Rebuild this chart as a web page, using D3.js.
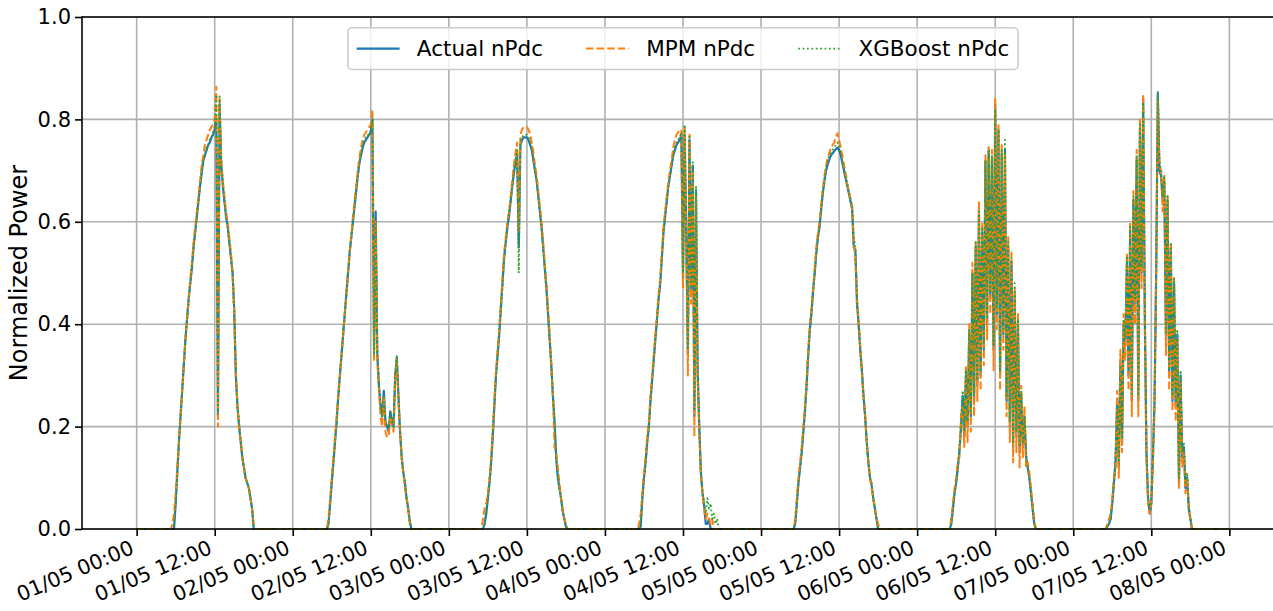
<!DOCTYPE html>
<html>
<head>
<meta charset="utf-8">
<script src="https://cdn.jsdelivr.net/npm/d3@7"></script>
<style>
body { margin: 0; background: #fff; }
text { font-family: "DejaVu Sans", sans-serif; fill: #000; }
</style>
</head>
<body>
<div id="chart"></div>
<script>
// time axis
var year = 2021;
var days = ["01/05", "02/05", "03/05", "04/05", "05/05", "06/05", "07/05"];
var firstSample = "05:00";
var stepMinutes = 15;
var rangeStart = "01/05 00:00";
var rangeEnd = "08/05 00:00";
var xTickLabels = ["01/05 00:00", "01/05 12:00", "02/05 00:00", "02/05 12:00", "03/05 00:00",
    "03/05 12:00", "04/05 00:00", "04/05 12:00", "05/05 00:00", "05/05 12:00", "06/05 00:00",
    "06/05 12:00", "07/05 00:00", "07/05 12:00", "08/05 00:00"];
var yTickValues = [0, 0.2, 0.4, 0.6, 0.8, 1.0];
var seriesNames = ["Actual nPdc", "MPM nPdc", "XGBoost nPdc"];

// daylight samples, 05:00 -> 18:15 every 15 min, one row per day
var actual = [
  [0,0,0,0, 0.05,0.11,0.17,0.22, 0.27,0.32,0.37,0.41, 0.45,0.48,0.51,0.55, 0.58,0.61,0.64,0.67, 0.695,0.72,0.73,0.74, 0.75,0.755,0.765,0.77, 0.78,0.80,0.22,0.83, 0.71,0.67,0.64,0.61, 0.59,0.56,0.53,0.50, 0.43,0.30,0.24,0.20, 0.17,0.14,0.12,0.10, 0.09,0.08,0.06,0.04, 0,0],
  [0,0,0.01,0.05, 0.09,0.13,0.17,0.21, 0.26,0.30,0.34,0.38, 0.42,0.46,0.50,0.54, 0.57,0.60,0.63,0.66, 0.69,0.715,0.73,0.745, 0.755,0.76,0.765,0.77, 0.775,0.80,0.35,0.62, 0.34,0.28,0.24,0.22, 0.27,0.21,0.20,0.19, 0.23,0.21,0.20,0.30, 0.335,0.26,0.19,0.14, 0.11,0.09,0.06,0.04, 0.015,0],
  [0,0,0.01,0.03, 0.06,0.09,0.13,0.18, 0.24,0.30,0.34,0.38, 0.43,0.48,0.53,0.56, 0.59,0.61,0.64,0.67, 0.695,0.715,0.735,0.55, 0.75,0.76,0.765,0.765, 0.765,0.76,0.75,0.74, 0.72,0.70,0.68,0.65, 0.62,0.59,0.55,0.51, 0.47,0.42,0.37,0.32, 0.26,0.21,0.14,0.10, 0.08,0.06,0.035,0.02, 0.005,0],
  [0,0,0.005,0.06, 0.10,0.13,0.17,0.20, 0.25,0.29,0.33,0.37, 0.41,0.45,0.48,0.53, 0.58,0.61,0.64,0.67, 0.69,0.71,0.73,0.74, 0.75,0.755,0.76,0.77, 0.49,0.77,0.58,0.34, 0.76,0.46,0.71,0.22, 0.66,0.31,0.20,0.11, 0.07,0.045,0.01,0.01, 0.02,0,0,0, 0,0,0,0, 0,0],
  [0,0.01,0.05,0.09, 0.12,0.15,0.19,0.23, 0.28,0.34,0.39,0.42, 0.465,0.50,0.54,0.57, 0.59,0.625,0.656,0.68, 0.70,0.712,0.722,0.73, 0.734,0.738,0.742,0.745, 0.74,0.73,0.715,0.70, 0.685,0.67,0.655,0.64, 0.625,0.55,0.545,0.44, 0.40,0.35,0.31,0.26, 0.22,0.17,0.13,0.10, 0.085,0.06,0.04,0.02, 0,0],
  [0,0.01,0.04,0.07, 0.09,0.12,0.15,0.20, 0.26,0.18,0.30,0.20, 0.38,0.22,0.50,0.25, 0.55,0.28,0.62,0.30, 0.58,0.35,0.72,0.40, 0.74,0.45,0.72,0.35, 0.83,0.42,0.78,0.30, 0.73,0.38,0.74,0.25, 0.55,0.20,0.52,0.16, 0.46,0.18,0.40,0.15, 0.26,0.16,0.22,0.14, 0.12,0.10,0.07,0.04, 0.01,0],
  [0,0.005,0.01,0.02, 0.05,0.09,0.13,0.25, 0.12,0.33,0.17,0.40, 0.36,0.52,0.30,0.58, 0.25,0.64,0.44,0.72, 0.25,0.78,0.50,0.84, 0.42,0.15,0.06,0.03, 0.05,0.14,0.25,0.50, 0.85,0.70,0.69,0.64, 0.68,0.37,0.64,0.30, 0.55,0.25,0.48,0.24, 0.38,0.09,0.30,0.14, 0.16,0.08,0.10,0.04, 0.02,0]
];
var mpm = [
  [0,0,0.01,0.03, 0.07,0.12,0.17,0.22, 0.27,0.32,0.37,0.41, 0.45,0.49,0.52,0.56, 0.59,0.62,0.65,0.68, 0.71,0.73,0.75,0.76, 0.77,0.78,0.785,0.79, 0.80,0.864,0.20,0.84, 0.72,0.68,0.65,0.62, 0.60,0.57,0.54,0.50, 0.42,0.31,0.24,0.20, 0.17,0.14,0.12,0.10, 0.09,0.08,0.06,0.04, 0.01,0],
  [0,0,0.02,0.06, 0.10,0.14,0.18,0.22, 0.26,0.30,0.34,0.38, 0.42,0.46,0.50,0.54, 0.57,0.61,0.64,0.67, 0.70,0.725,0.745,0.76, 0.77,0.775,0.78,0.785, 0.79,0.82,0.33,0.60, 0.33,0.27,0.22,0.20, 0.26,0.19,0.18,0.18, 0.22,0.20,0.19,0.29, 0.33,0.25,0.19,0.14, 0.11,0.08,0.06,0.04, 0.01,0],
  [0,0.02,0.04,0.05, 0.07,0.10,0.14,0.19, 0.25,0.31,0.35,0.39, 0.44,0.49,0.54,0.57, 0.60,0.62,0.65,0.68, 0.71,0.735,0.755,0.58, 0.77,0.78,0.785,0.786, 0.785,0.78,0.77,0.755, 0.735,0.71,0.69,0.66, 0.63,0.60,0.56,0.52, 0.48,0.43,0.38,0.32, 0.26,0.16,0.15,0.12, 0.09,0.06,0.04,0.02, 0.01,0],
  [0,0.01,0.03,0.07, 0.11,0.14,0.18,0.21, 0.26,0.30,0.34,0.38, 0.42,0.46,0.49,0.54, 0.59,0.62,0.65,0.68, 0.70,0.72,0.745,0.76, 0.77,0.775,0.78,0.78, 0.47,0.785,0.56,0.30, 0.77,0.44,0.70,0.18, 0.65,0.29,0.19,0.10, 0.07,0.04,0.02,0.03, 0.02,0.01,0.02,0, 0,0,0,0, 0,0],
  [0,0.02,0.06,0.10, 0.13,0.16,0.20,0.24, 0.29,0.35,0.40,0.43, 0.47,0.51,0.55,0.58, 0.60,0.635,0.665,0.69, 0.71,0.725,0.735,0.745, 0.75,0.755,0.765,0.773, 0.76,0.745,0.73,0.71, 0.695,0.675,0.66,0.645, 0.63,0.56,0.53,0.45, 0.41,0.36,0.31,0.26, 0.22,0.17,0.13,0.10, 0.08,0.06,0.04,0.02, 0.01,0],
  [0,0.02,0.05,0.08, 0.10,0.13,0.14,0.22, 0.24,0.16,0.32,0.17, 0.40,0.19,0.52,0.22, 0.56,0.25,0.64,0.27, 0.60,0.32,0.73,0.37, 0.75,0.42,0.74,0.31, 0.84,0.39,0.79,0.27, 0.75,0.35,0.73,0.22, 0.57,0.17,0.54,0.13, 0.47,0.15,0.42,0.12, 0.28,0.14,0.24,0.12, 0.13,0.11,0.08,0.05, 0.02,0],
  [0,0.01,0.02,0.03, 0.06,0.10,0.12,0.27, 0.10,0.35,0.15,0.42, 0.33,0.54,0.27,0.60, 0.22,0.66,0.40,0.74, 0.22,0.80,0.47,0.85, 0.39,0.14,0.05,0.03, 0.05,0.13,0.24,0.52, 0.84,0.71,0.70,0.62, 0.69,0.34,0.65,0.27, 0.56,0.23,0.49,0.21, 0.37,0.08,0.29,0.12, 0.15,0.07,0.10,0.05, 0.02,0]
];
var xgb = [
  [0,0,0,0.01, 0.05,0.11,0.17,0.22, 0.27,0.32,0.37,0.41, 0.45,0.48,0.52,0.55, 0.58,0.61,0.64,0.67, 0.70,0.72,0.73,0.745, 0.75,0.76,0.765,0.775, 0.785,0.848,0.225,0.845, 0.72,0.68,0.64,0.61, 0.59,0.56,0.53,0.50, 0.43,0.30,0.24,0.21, 0.17,0.14,0.12,0.10, 0.09,0.08,0.06,0.04, 0,0],
  [0,0,0.01,0.05, 0.09,0.13,0.17,0.21, 0.26,0.30,0.34,0.38, 0.42,0.46,0.50,0.54, 0.57,0.60,0.63,0.66, 0.69,0.715,0.735,0.75, 0.76,0.765,0.77,0.77, 0.78,0.80,0.34,0.60, 0.36,0.28,0.24,0.22, 0.26,0.21,0.20,0.20, 0.23,0.21,0.20,0.30, 0.34,0.26,0.19,0.14, 0.11,0.09,0.06,0.04, 0.01,0],
  [0,0,0.01,0.03, 0.06,0.09,0.13,0.19, 0.25,0.30,0.34,0.39, 0.44,0.48,0.53,0.56, 0.59,0.62,0.64,0.67, 0.70,0.72,0.74,0.50, 0.755,0.765,0.77,0.77, 0.77,0.765,0.755,0.745, 0.725,0.70,0.68,0.65, 0.62,0.59,0.55,0.51, 0.47,0.42,0.37,0.32, 0.26,0.21,0.14,0.11, 0.08,0.06,0.035,0.02, 0.005,0],
  [0,0,0.01,0.06, 0.10,0.13,0.17,0.20, 0.25,0.29,0.33,0.37, 0.41,0.45,0.48,0.53, 0.58,0.61,0.64,0.67, 0.69,0.71,0.73,0.745, 0.755,0.76,0.765,0.775, 0.50,0.79,0.57,0.35, 0.77,0.47,0.72,0.23, 0.67,0.31,0.20,0.11, 0.07,0.05,0.03,0.06, 0.04,0.05,0.02,0.03, 0.01,0.02,0,0, 0,0],
  [0,0.01,0.05,0.09, 0.12,0.15,0.19,0.23, 0.28,0.34,0.39,0.43, 0.465,0.50,0.54,0.57, 0.595,0.63,0.66,0.685, 0.705,0.72,0.73,0.735, 0.74,0.745,0.75,0.755, 0.75,0.735,0.72,0.705, 0.69,0.675,0.66,0.645, 0.63,0.57,0.55,0.45, 0.40,0.35,0.31,0.26, 0.22,0.17,0.13,0.10, 0.09,0.06,0.04,0.02, 0,0],
  [0,0.01,0.04,0.07, 0.09,0.12,0.16,0.21, 0.27,0.19,0.31,0.21, 0.39,0.23,0.50,0.26, 0.56,0.29,0.62,0.31, 0.59,0.36,0.72,0.41, 0.74,0.46,0.73,0.36, 0.82,0.43,0.78,0.31, 0.74,0.39,0.76,0.26, 0.56,0.21,0.53,0.17, 0.48,0.19,0.41,0.16, 0.27,0.17,0.22,0.15, 0.12,0.10,0.07,0.04, 0.01,0],
  [0,0.005,0.01,0.02, 0.05,0.09,0.14,0.24, 0.13,0.32,0.18,0.41, 0.37,0.53,0.31,0.59, 0.26,0.65,0.45,0.73, 0.26,0.79,0.51,0.83, 0.43,0.16,0.06,0.04, 0.05,0.15,0.26,0.51, 0.855,0.72,0.70,0.65, 0.69,0.38,0.65,0.31, 0.56,0.26,0.49,0.25, 0.39,0.10,0.31,0.15, 0.17,0.09,0.11,0.05, 0.02,0]
];

var parseTime = d3.utcParse("%Y %d/%m %H:%M");
function toDate(s) { return parseTime(year + " " + s); }

// night is flat zero between the daylight rows
function buildSeries(rows) {
    var pts = [{t: toDate(rangeStart), v: 0}];
    rows.forEach(function(vals, di) {
        var t0 = toDate(days[di] + " " + firstSample);
        vals.forEach(function(v, i) {
            pts.push({t: d3.utcMinute.offset(t0, i * stepMinutes), v: v});
        });
    });
    pts.push({t: toDate(rangeEnd), v: 0});
    return pts;
}

var W = 1273, H = 611;
var pLeft = 82, pRight = 1284, pTop = 17, pBottom = 529;
var fs = 21;
var xFs = 20.5;
var legendFs = 21.5;

var svg = d3.select("#chart").append("svg")
    .attr("width", W).attr("height", H)
    .style("display", "block");

svg.append("rect").attr("width", W).attr("height", H).attr("fill", "#fff");

// matplotlib-like 5% margin on x
var tStart = toDate(rangeStart), tEnd = toDate(rangeEnd);
var padMs = (tEnd - tStart) * 0.05;
var x = d3.scaleUtc()
    .domain([new Date(+tStart - padMs), new Date(+tEnd + padMs)])
    .range([pLeft, pRight]);
var y = d3.scaleLinear().domain([0, 1]).range([pBottom, pTop]);

var xTickDates = xTickLabels.map(toDate);

// grid
var grid = svg.append("g");
grid.selectAll("line.gx").data(xTickDates).enter().append("line")
    .attr("x1", function(d) { return x(d); }).attr("x2", function(d) { return x(d); })
    .attr("y1", pTop).attr("y2", pBottom)
    .attr("stroke", "#b0b0b0").attr("stroke-width", 1.6);
grid.selectAll("line.gy").data(yTickValues).enter().append("line")
    .attr("x1", pLeft).attr("x2", pRight)
    .attr("y1", function(d) { return y(d); }).attr("y2", function(d) { return y(d); })
    .attr("stroke", "#b0b0b0").attr("stroke-width", 1.6);

// lines
var line = d3.line()
    .x(function(d) { return x(d.t); })
    .y(function(d) { return y(d.v); });

var styles = [
    {color: "#1f77b4", width: 2.2, dash: null},
    {color: "#ff7f0e", width: 2, dash: "7.4,3.2"},
    {color: "#2ca02c", width: 1.9, dash: "1.7,2.7"}
];
var allSeries = [actual, mpm, xgb];

allSeries.forEach(function(rows, i) {
    svg.append("path")
        .datum(buildSeries(rows))
        .attr("d", line)
        .attr("fill", "none")
        .attr("stroke", styles[i].color)
        .attr("stroke-width", styles[i].width)
        .attr("stroke-dasharray", styles[i].dash)
        .attr("stroke-linejoin", "round");
});

// axes
var xAxis = svg.append("g")
    .attr("transform", "translate(0," + pBottom + ")")
    .call(d3.axisBottom(x).tickValues(xTickDates).tickSize(7).tickFormat(function(d, i) { return xTickLabels[i]; }));
xAxis.select(".domain").remove();
xAxis.selectAll(".tick line").attr("stroke", "#000").attr("stroke-width", 1.6);
xAxis.selectAll(".tick text")
    .attr("font-size", xFs)
    .attr("font-family", "DejaVu Sans")
    .style("text-anchor", "end")
    .attr("y", 0).attr("dy", 0)
    .attr("transform", "translate(-2,24) rotate(-23)");

var yAxis = svg.append("g")
    .attr("transform", "translate(" + pLeft + ",0)")
    .call(d3.axisLeft(y).tickValues(yTickValues).tickSize(7).tickPadding(4).tickFormat(d3.format(".1f")));
yAxis.select(".domain").remove();
yAxis.selectAll(".tick line").attr("stroke", "#000").attr("stroke-width", 1.6);
yAxis.selectAll(".tick text").attr("font-size", fs).attr("font-family", "DejaVu Sans");

// spines
var sp = svg.append("g").attr("stroke", "#000").attr("stroke-width", 1.6);
sp.append("line").attr("x1", pLeft).attr("x2", pLeft).attr("y1", pTop - 0.8).attr("y2", pBottom + 0.8);
sp.append("line").attr("x1", pLeft).attr("x2", pRight).attr("y1", pBottom).attr("y2", pBottom);
sp.append("line").attr("x1", pLeft).attr("x2", pRight).attr("y1", pTop).attr("y2", pTop);
sp.append("line").attr("x1", pRight).attr("x2", pRight).attr("y1", pTop).attr("y2", pBottom);

// y label
svg.append("text")
    .attr("transform", "translate(27," + ((pTop + pBottom) / 2) + ") rotate(-90)")
    .attr("text-anchor", "middle")
    .attr("font-size", 24)
    .text("Normalized Power");

// legend, upper center, 3 columns
var legend = svg.append("g");
var box = legend.append("rect");
var handleLen = 2 * legendFs, textPad = 0.8 * legendFs, colSpace = 2 * legendFs, borderPad = 0.4 * legendFs;
var items = legend.selectAll("g.item").data(seriesNames).enter().append("g");
var widths = [];
items.append("text")
    .attr("font-size", legendFs)
    .text(function(d) { return d; })
    .each(function() { widths.push(this.getComputedTextLength()); });
var total = 2 * borderPad + d3.sum(widths) + 3 * (handleLen + textPad) + 2 * colSpace;
var lx = (pLeft + pRight) / 2 - total / 2;
var ly = pTop + 0.5 * legendFs;
var lh = 2 * borderPad + legendFs * 1.0 + 3;
box.attr("x", lx).attr("y", ly).attr("width", total).attr("height", lh)
    .attr("rx", 4).attr("fill", "#fff").attr("fill-opacity", 0.8)
    .attr("stroke", "#cccccc").attr("stroke-width", 1.6);
var cx = lx + borderPad;
var rowY = ly + lh / 2;
items.each(function(d, i) {
    var g = d3.select(this);
    g.append("line")
        .attr("x1", cx).attr("x2", cx + handleLen)
        .attr("y1", rowY).attr("y2", rowY)
        .attr("stroke", styles[i].color)
        .attr("stroke-width", styles[i].width)
        .attr("stroke-dasharray", styles[i].dash);
    g.select("text").attr("x", cx + handleLen + textPad).attr("y", rowY + 0.36 * legendFs);
    cx += handleLen + textPad + widths[i] + colSpace;
});
</script>
</body>
</html>
